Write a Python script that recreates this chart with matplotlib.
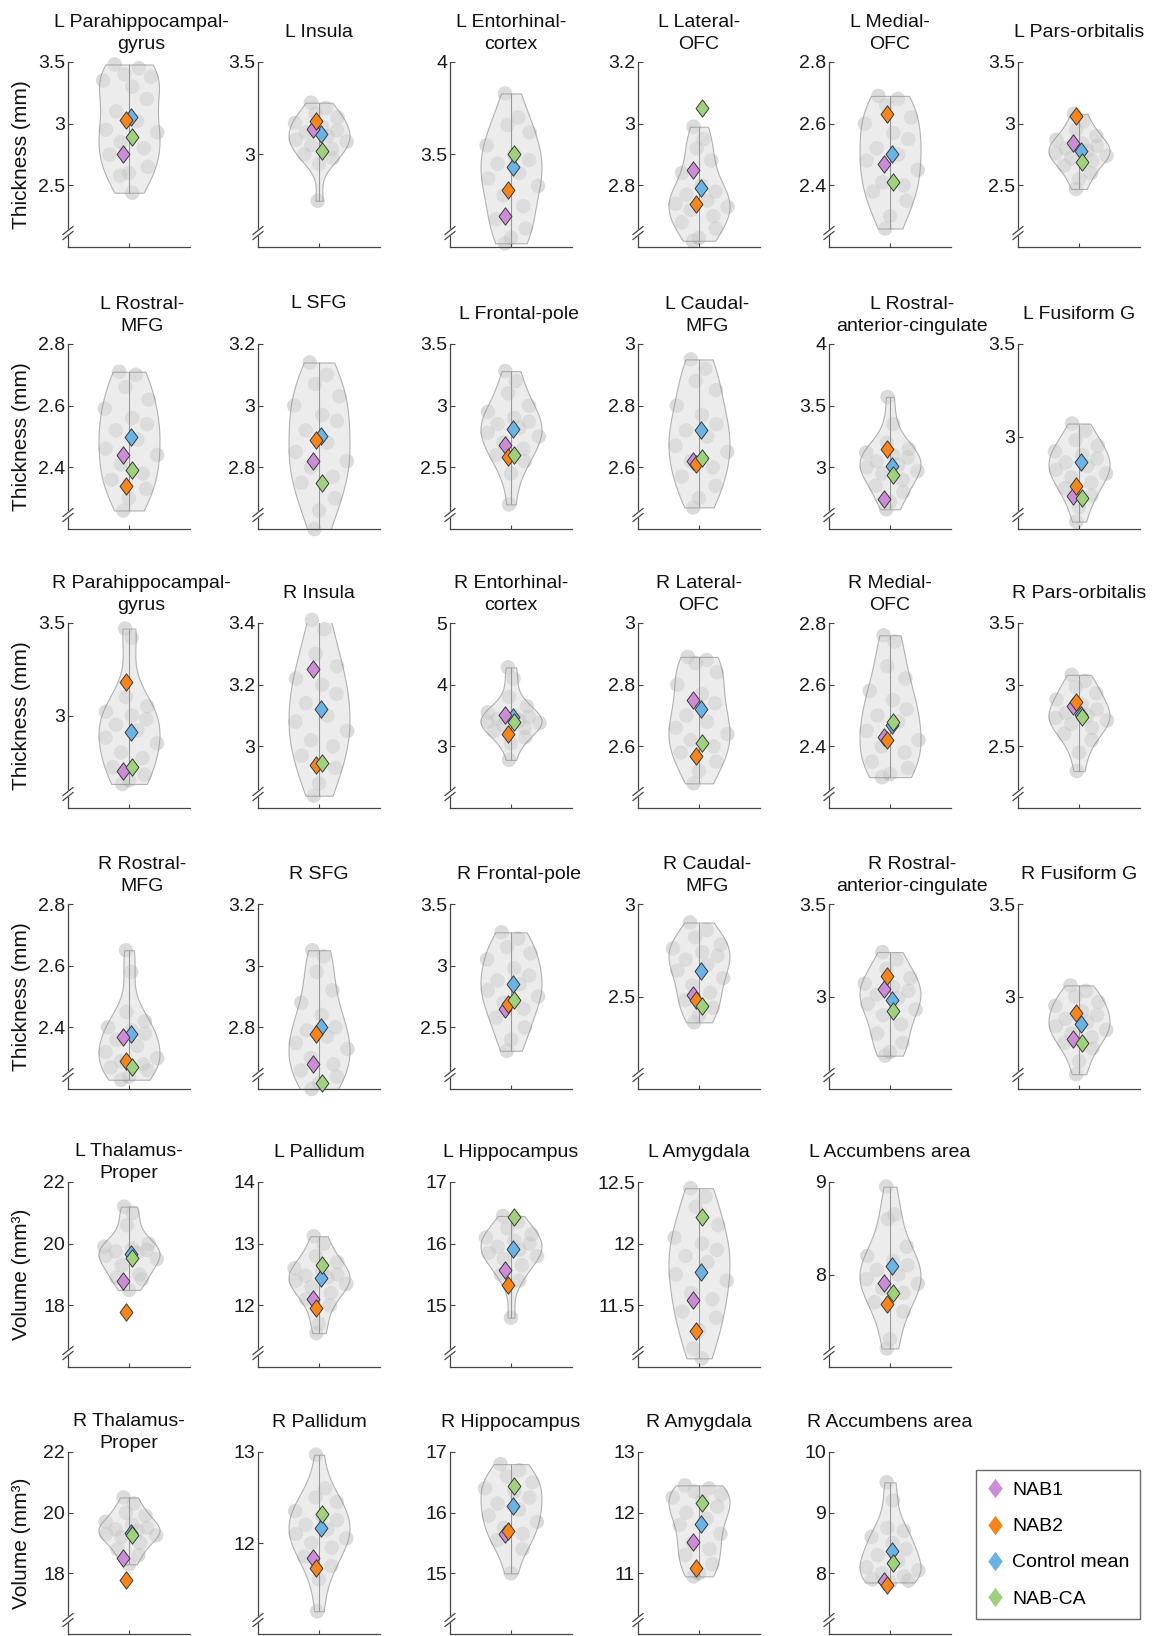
import numpy as np
import matplotlib
matplotlib.use('Agg')
import matplotlib.pyplot as plt
from matplotlib.path import Path
from matplotlib.lines import Line2D
from matplotlib.mlab import GaussianKDE

plt.rcParams['font.family'] = ['Liberation Sans', 'DejaVu Sans']

# ---------------- data ----------------
titles = [
    "L Parahippocampal-\ngyrus", "L Insula", "L Entorhinal-\ncortex", "L Lateral-\nOFC", "L Medial-\nOFC", "L Pars-orbitalis",
    "L Rostral-\nMFG", "L SFG", "L Frontal-pole", "L Caudal-\nMFG", "L Rostral-\nanterior-cingulate", "L Fusiform G",
    "R Parahippocampal-\ngyrus", "R Insula", "R Entorhinal-\ncortex", "R Lateral-\nOFC", "R Medial-\nOFC", "R Pars-orbitalis",
    "R Rostral-\nMFG", "R SFG", "R Frontal-pole", "R Caudal-\nMFG", "R Rostral-\nanterior-cingulate", "R Fusiform G",
    "L Thalamus-\nProper", "L Pallidum", "L Hippocampus", "L Amygdala", "L Accumbens area",
    "R Thalamus-\nProper", "R Pallidum", "R Hippocampus", "R Amygdala", "R Accumbens area",
]

ylims = [
    (2.0, 3.5), (2.5, 3.5), (3.0, 4.0), (2.6, 3.2), (2.2, 2.8), (2.0, 3.5),
    (2.2, 2.8), (2.6, 3.2), (2.0, 3.5), (2.4, 3.0), (2.5, 4.0), (2.5, 3.5),
    (2.5, 3.5), (2.8, 3.4), (2.0, 5.0), (2.4, 3.0), (2.2, 2.8), (2.0, 3.5),
    (2.2, 2.8), (2.6, 3.2), (2.0, 3.5), (2.0, 3.0), (2.5, 3.5), (2.5, 3.5),
    (16, 22), (11, 14), (14, 17), (11, 12.5), (7, 9),
    (16, 22), (11, 13), (14, 17), (10, 13), (7, 10),
]

yticks = [
    [2.5, 3, 3.5], [3, 3.5], [3.5, 4], [2.8, 3, 3.2], [2.4, 2.6, 2.8], [2.5, 3, 3.5],
    [2.4, 2.6, 2.8], [2.8, 3, 3.2], [2.5, 3, 3.5], [2.6, 2.8, 3], [3, 3.5, 4], [3, 3.5],
    [3, 3.5], [3, 3.2, 3.4], [3, 4, 5], [2.6, 2.8, 3], [2.4, 2.6, 2.8], [2.5, 3, 3.5],
    [2.4, 2.6, 2.8], [2.8, 3, 3.2], [2.5, 3, 3.5], [2.5, 3], [3, 3.5], [3, 3.5],
    [18, 20, 22], [12, 13, 14], [15, 16, 17], [11.5, 12, 12.5], [8, 9],
    [18, 20, 22], [12, 13], [15, 16, 17], [11, 12, 13], [8, 9, 10],
]

nab1 = [2.75, 3.14, 3.17, 2.85, 2.47, 2.84,
        2.44, 2.82, 2.68, 2.62, 2.74, 2.68,
        2.70, 3.25, 3.51, 2.75, 2.43, 2.83,
        2.37, 2.68, 2.65, 2.51, 3.04, 2.77,
        18.8, 12.1, 15.58, 11.54, 7.91,
        18.52, 11.84, 15.65, 11.52, 7.87]
nab2 = [3.03, 3.18, 3.31, 2.74, 2.63, 3.06,
        2.34, 2.89, 2.58, 2.61, 3.15, 2.73,
        3.18, 2.94, 3.20, 2.57, 2.42, 2.86,
        2.29, 2.78, 2.69, 2.48, 3.11, 2.91,
        17.78, 11.95, 15.33, 11.29, 7.68,
        17.77, 11.72, 15.69, 11.09, 7.81]
ctrl_mean = [3.05, 3.11, 3.43, 2.79, 2.50, 2.78,
             2.50, 2.90, 2.81, 2.72, 3.01, 2.86,
             2.91, 3.12, 3.47, 2.72, 2.47, 2.75,
             2.38, 2.80, 2.85, 2.64, 2.98, 2.85,
             19.65, 12.44, 15.92, 11.77, 8.09,
             19.33, 12.16, 16.11, 11.81, 8.37]
nab_ca = [2.89, 3.02, 3.50, 3.05, 2.41, 2.69,
          2.39, 2.75, 2.60, 2.63, 2.94, 2.67,
          2.72, 2.945, 3.40, 2.61, 2.48, 2.74,
          2.27, 2.62, 2.72, 2.45, 2.92, 2.75,
          19.52, 12.66, 16.44, 12.22, 7.80,
          19.25, 12.32, 16.44, 12.16, 8.17]

controls = [
    [3.48, 3.45, 3.40, 3.38, 3.35, 3.30, 3.20, 3.10, 3.02, 2.95, 2.93, 2.85, 2.80, 2.75, 2.65, 2.60, 2.58, 2.44],
    [3.28, 3.25, 3.22, 3.20, 3.17, 3.15, 3.13, 3.12, 3.10, 3.08, 3.07, 3.05, 3.03, 3.00, 2.98, 2.95, 2.75],
    [3.83, 3.70, 3.66, 3.62, 3.55, 3.50, 3.47, 3.45, 3.40, 3.37, 3.33, 3.28, 3.22, 3.15, 3.10, 3.05, 3.02],
    [2.99, 2.95, 2.92, 2.88, 2.84, 2.80, 2.78, 2.77, 2.75, 2.74, 2.73, 2.72, 2.70, 2.68, 2.66, 2.63, 2.62],
    [2.69, 2.68, 2.66, 2.62, 2.60, 2.57, 2.55, 2.52, 2.50, 2.48, 2.45, 2.41, 2.40, 2.38, 2.35, 2.30, 2.26],
    [3.08, 3.02, 2.95, 2.90, 2.87, 2.84, 2.82, 2.80, 2.78, 2.76, 2.74, 2.72, 2.70, 2.66, 2.60, 2.55, 2.47],
    [2.71, 2.70, 2.66, 2.62, 2.59, 2.56, 2.54, 2.52, 2.49, 2.46, 2.44, 2.41, 2.38, 2.36, 2.33, 2.30, 2.26],
    [3.14, 3.10, 3.07, 3.03, 3.00, 2.97, 2.95, 2.92, 2.88, 2.85, 2.82, 2.80, 2.77, 2.75, 2.70, 2.66, 2.60],
    [3.28, 3.20, 3.10, 3.00, 2.95, 2.90, 2.87, 2.85, 2.82, 2.78, 2.75, 2.70, 2.65, 2.60, 2.55, 2.45, 2.20],
    [2.95, 2.92, 2.88, 2.85, 2.80, 2.77, 2.74, 2.72, 2.70, 2.67, 2.65, 2.62, 2.60, 2.57, 2.54, 2.50, 2.47],
    [3.57, 3.35, 3.20, 3.15, 3.12, 3.10, 3.08, 3.05, 3.02, 3.00, 2.97, 2.95, 2.90, 2.85, 2.80, 2.72, 2.66],
    [3.07, 3.03, 2.98, 2.95, 2.92, 2.90, 2.88, 2.86, 2.84, 2.82, 2.80, 2.78, 2.75, 2.72, 2.68, 2.62, 2.54],
    [3.47, 3.42, 3.10, 3.05, 3.02, 3.00, 2.98, 2.95, 2.92, 2.88, 2.85, 2.80, 2.77, 2.72, 2.68, 2.65, 2.63],
    [3.41, 3.38, 3.30, 3.26, 3.22, 3.20, 3.17, 3.14, 3.10, 3.08, 3.05, 3.02, 3.00, 2.97, 2.93, 2.88, 2.84],
    [4.28, 4.10, 3.80, 3.65, 3.55, 3.50, 3.48, 3.45, 3.42, 3.40, 3.38, 3.35, 3.30, 3.25, 3.15, 3.05, 2.78],
    [2.89, 2.88, 2.87, 2.84, 2.80, 2.77, 2.74, 2.70, 2.68, 2.66, 2.64, 2.62, 2.60, 2.58, 2.55, 2.52, 2.48],
    [2.76, 2.74, 2.66, 2.62, 2.58, 2.55, 2.52, 2.50, 2.48, 2.45, 2.42, 2.40, 2.38, 2.35, 2.33, 2.31, 2.30],
    [3.08, 3.03, 2.98, 2.93, 2.88, 2.84, 2.80, 2.77, 2.75, 2.73, 2.71, 2.68, 2.65, 2.60, 2.55, 2.45, 2.30],
    [2.65, 2.58, 2.45, 2.42, 2.40, 2.39, 2.38, 2.36, 2.34, 2.32, 2.30, 2.29, 2.28, 2.27, 2.26, 2.24, 2.23],
    [3.05, 3.03, 2.98, 2.92, 2.88, 2.84, 2.80, 2.79, 2.77, 2.75, 2.73, 2.70, 2.68, 2.66, 2.64, 2.62, 2.60],
    [3.27, 3.22, 3.15, 3.10, 3.05, 2.98, 2.92, 2.88, 2.85, 2.80, 2.75, 2.70, 2.65, 2.58, 2.50, 2.40, 2.31],
    [2.90, 2.86, 2.82, 2.78, 2.76, 2.74, 2.72, 2.70, 2.67, 2.64, 2.60, 2.56, 2.52, 2.48, 2.44, 2.40, 2.36],
    [3.24, 3.20, 3.15, 3.10, 3.07, 3.05, 3.03, 3.01, 2.99, 2.96, 2.93, 2.90, 2.85, 2.80, 2.75, 2.70, 2.68],
    [3.06, 3.03, 3.00, 2.97, 2.95, 2.92, 2.90, 2.88, 2.86, 2.84, 2.82, 2.80, 2.78, 2.75, 2.72, 2.65, 2.58],
    [21.2, 21.0, 20.6, 20.0, 19.9, 19.85, 19.8, 19.75, 19.7, 19.6, 19.5, 19.3, 19.0, 18.9, 18.85, 18.5],
    [13.12, 13.0, 12.8, 12.7, 12.6, 12.55, 12.5, 12.48, 12.45, 12.4, 12.35, 12.3, 12.2, 12.1, 12.0, 11.7, 11.55],
    [16.45, 16.35, 16.25, 16.15, 16.1, 16.05, 16.0, 15.95, 15.9, 15.85, 15.8, 15.75, 15.65, 15.5, 15.4, 14.8],
    [12.45, 12.38, 12.3, 12.15, 12.05, 12.0, 11.95, 11.9, 11.85, 11.75, 11.7, 11.6, 11.55, 11.45, 11.4, 11.3, 11.15, 11.07],
    [8.95, 8.65, 8.6, 8.3, 8.2, 8.15, 8.1, 8.05, 8.0, 7.95, 7.9, 7.85, 7.8, 7.7, 7.6, 7.3, 7.2],
    [20.5, 20.3, 20.0, 19.9, 19.7, 19.6, 19.5, 19.45, 19.4, 19.3, 19.25, 19.2, 19.0, 18.8, 18.6, 18.3],
    [12.97, 12.6, 12.5, 12.45, 12.35, 12.3, 12.25, 12.2, 12.15, 12.1, 12.05, 12.0, 11.95, 11.85, 11.75, 11.6, 11.25],
    [16.8, 16.7, 16.6, 16.5, 16.4, 16.35, 16.25, 16.15, 16.05, 15.95, 15.85, 15.75, 15.65, 15.55, 15.4, 15.0],
    [12.45, 12.4, 12.35, 12.3, 12.25, 12.2, 12.1, 12.0, 11.9, 11.8, 11.65, 11.5, 11.4, 11.3, 11.15, 11.0, 10.95],
    [9.5, 9.2, 8.75, 8.7, 8.6, 8.5, 8.4, 8.3, 8.2, 8.1, 8.05, 8.0, 7.95, 7.9, 7.88, 7.85],
]

group_labels = ["NAB1", "NAB2", "Control mean", "NAB-CA"]

# ---------------- style ----------------
COLORS = {"NAB1": "#CD8CD7", "NAB2": "#F7851A", "Control mean": "#69B4E4", "NAB-CA": "#A0D27D"}
XOFF = {"NAB1": -0.10, "NAB2": -0.055, "Control mean": 0.027, "NAB-CA": 0.055}
DRAW_ORDER = ["Control mean", "NAB1", "NAB2", "NAB-CA"]
JITTER = [-0.55, 0.35, -0.15, 0.7, -0.8, 0.1, 0.55, -0.4, 0.25, -0.7, 0.85,
          -0.25, 0.45, -0.6, 0.65, 0.0, -0.35, 0.2]
DIAMOND = Path([(0, 1), (0.74, 0), (0, -1), (-0.74, 0), (0, 1)],
               [Path.MOVETO, Path.LINETO, Path.LINETO, Path.LINETO, Path.CLOSEPOLY])
SPINE = '#454545'

W, H = 1156, 1636
fig = plt.figure(figsize=(W / 100, H / 100), dpi=100)

col_left = [68, 258, 450, 638, 829, 1018]
row_top = [62, 344, 623, 904, 1182, 1452]
row_h = [185, 185, 185, 185, 185, 182]
AX_W = 122
row_counts = [6, 6, 6, 6, 5, 5]
title_shift = {0: 12, 6: 13, 8: 8, 9: 8, 10: 22, 12: 12, 18: 13, 20: 8, 21: 8, 22: 22}
LINE_GAP = 22

idx = 0
for r, n in enumerate(row_counts):
    for c in range(n):
        i = idx
        idx += 1
        t, h, l = row_top[r], row_h[r], col_left[c]
        ax = fig.add_axes([l / W, 1 - (t + h) / H, AX_W / W, h / H])
        ax.set_xlim(0, 2)
        ax.set_ylim(*ylims[i])
        data = np.array(controls[i], dtype=float)

        kde = GaussianKDE(data, 'scott')
        grid = np.linspace(data.min(), data.max(), 100)
        dmax = kde.evaluate(grid).max()
        dens = kde.evaluate(data)
        jit = np.array([JITTER[k % len(JITTER)] for k in range(len(data))])
        xs = 1 + jit * 0.55 * dens / dmax
        ax.scatter(xs, data, s=110, color='#8a8a8a', alpha=0.3, edgecolors='none',
                   zorder=1, clip_on=False)

        vp = ax.violinplot([data], positions=[1], widths=1.0, showextrema=False, points=100)
        for b in vp['bodies']:
            b.set_alpha(None)
            b.set_facecolor((0.87, 0.87, 0.87, 0.55))
            b.set_edgecolor((0.58, 0.58, 0.58, 0.7))
            b.set_linewidth(0.8)
            b.set_zorder(2)
        ax.vlines(1, data.min(), data.max(), color='#9a9a9a', lw=0.8, zorder=2.5)

        vals = {"NAB1": nab1[i], "NAB2": nab2[i], "Control mean": ctrl_mean[i], "NAB-CA": nab_ca[i]}
        for k, g in enumerate(DRAW_ORDER):
            ax.plot(1 + XOFF[g], vals[g], marker=DIAMOND, ms=12.5, mfc=COLORS[g], mec='#3a3a3a',
                    mew=0.7, ls='none', zorder=5 + k, clip_on=False)

        for s in ('top', 'right'):
            ax.spines[s].set_visible(False)
        for s in ('left', 'bottom'):
            ax.spines[s].set_color(SPINE)
            ax.spines[s].set_linewidth(0.9)
        ax.set_yticks(yticks[i])
        ax.set_yticklabels([f'{v:g}' for v in yticks[i]])
        ax.tick_params(axis='y', direction='in', length=3.5, width=0.8, colors=SPINE,
                       labelcolor='#1a1a1a', labelsize=14, pad=2)
        ax.set_xticks([1])
        ax.set_xticklabels([])
        ax.tick_params(axis='x', direction='in', length=3, width=0.8, colors=SPINE)

        # axis break marks
        pw, ph = 1 / AX_W, 1 / h
        cy = 14 * ph
        mask_x = [-5 * pw, 5 * pw, 5 * pw, -5 * pw]
        mask_y = [cy - 6.5 * ph, cy + 1.5 * ph, cy + 6.5 * ph, cy - 1.5 * ph]
        ax.fill(mask_x, mask_y, color='white', transform=ax.transAxes, clip_on=False, zorder=20)
        for dy in (-2.5, 2.5):
            ax.plot([-5 * pw, 5 * pw], [cy + (dy - 4) * ph, cy + (dy + 4) * ph],
                    transform=ax.transAxes, color=SPINE, lw=0.9, clip_on=False, zorder=21)

        # title
        lines = titles[i].split('\n')
        if r >= 4:
            last = 4 if len(lines) > 1 else 25
        else:
            last = 13 if len(lines) > 1 else 25
            if titles[i] == "L SFG":
                last = 36
        sx = title_shift.get(i, 0)
        for j, line in enumerate(reversed(lines)):
            ax.text(0.5 + sx * pw, 1 + (last + j * LINE_GAP) * ph, line, transform=ax.transAxes,
                    ha='center', va='baseline', fontsize=14, color='#111111')

        if c == 0:
            lab = "Thickness (mm)" if r < 4 else "Volume (mm\u00b3)"
            fig.text(22 / W, 1 - (t + h / 2) / H, lab, rotation=90, ha='center', va='center',
                     fontsize=15, color='#111111')

handles = [Line2D([], [], marker=DIAMOND, ms=14, mfc=COLORS[g], mec='none', ls='none')
           for g in group_labels]
leg = fig.legend(handles, group_labels, loc='upper left',
                 bbox_to_anchor=(976 / W, 1 - (1470 + 152) / H, 164 / W, 152 / H), mode='expand',
                 borderaxespad=0, borderpad=0.6, handlelength=0.8, handletextpad=0.45,
                 labelspacing=0.95, fontsize=14, frameon=True, fancybox=False)
leg.get_frame().set_edgecolor(SPINE)
leg.get_frame().set_linewidth(1.0)

fig.savefig('out.png', dpi=100)
